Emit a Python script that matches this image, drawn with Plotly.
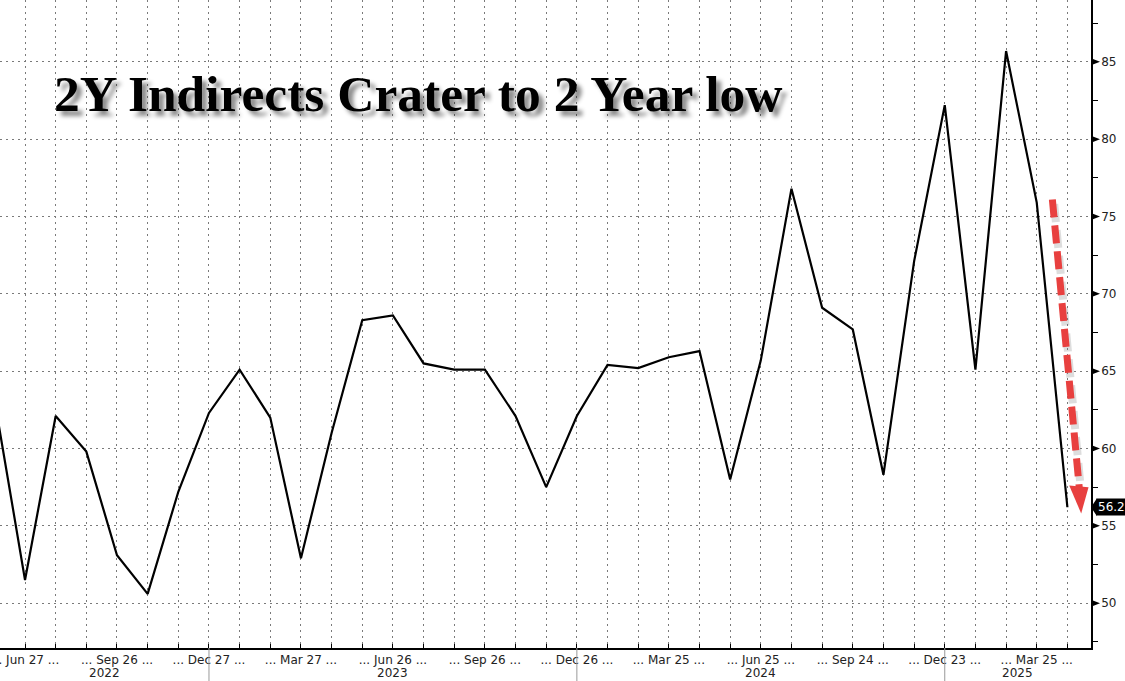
import datetime as dt
import plotly.graph_objects as go

# ---- data ----
auction_dates = ["2022-05-25", "2022-06-27", "2022-07-26", "2022-08-24", "2022-09-26",
                 "2022-10-26", "2022-11-21", "2022-12-27", "2023-01-24", "2023-02-27",
                 "2023-03-27", "2023-04-25", "2023-05-25", "2023-06-26", "2023-07-25",
                 "2023-08-28", "2023-09-26", "2023-10-24", "2023-11-27", "2023-12-26",
                 "2024-01-23", "2024-02-26", "2024-03-25", "2024-04-23", "2024-05-28",
                 "2024-06-25", "2024-07-29", "2024-08-26", "2024-09-24", "2024-10-28",
                 "2024-11-25", "2024-12-23", "2025-01-27", "2025-02-25", "2025-03-25",
                 "2025-04-28"]
indirects = [63.2, 51.5, 62.1, 59.8, 53.1, 50.6, 57.2, 62.3, 65.1, 62.0,
             52.9, 61.0, 68.3, 68.6, 65.5, 65.1, 65.1, 62.1, 57.5, 62.1,
             65.4, 65.2, 65.9, 66.3, 58.0, 65.7, 76.8, 69.1, 67.7, 58.3,
             72.1, 82.2, 65.1, 85.7, 75.9, 56.2]
y_ticks = [50, 55, 60, 65, 70, 75, 80, 85]
title_text = "2Y Indirects Crater to 2 Year low"

# ---- derived ----
dates = [dt.date.fromisoformat(d) for d in auction_dates]
x_idx = list(range(len(dates)))
tick_idx = x_idx[1::3]
tick_text = ["... %s %d ..." % (dates[i].strftime("%b"), dates[i].day) for i in tick_idx]

x_range = [0.184, len(dates) - 1 + 0.77]
y_range = [47.1, 89.0]

fig = go.Figure()
fig.add_trace(go.Scatter(x=x_idx, y=indirects, mode="lines",
                         line=dict(color="black", width=2.2), hoverinfo="skip",
                         showlegend=False))

grid_col = "#7a7a7a"
lab_font = dict(family="DejaVu Sans, Verdana, sans-serif", size=12, color="#222")
fig.update_layout(
    width=1125, height=681,
    margin=dict(l=0, r=34, t=0, b=33, autoexpand=False),
    paper_bgcolor="white", plot_bgcolor="white",
    showlegend=False,
    font=lab_font,
    xaxis=dict(range=x_range, tickmode="array", tickvals=tick_idx, ticktext=tick_text,
               showgrid=True, gridcolor=grid_col, griddash="2px,4px", gridwidth=1,
               ticks="inside", ticklen=4, tickcolor="black",
               showline=True, linecolor="black", linewidth=1.5,
               minor=dict(tickmode="linear", tick0=0, dtick=1, showgrid=True,
                          gridcolor=grid_col, griddash="2px,4px", gridwidth=1,
                          ticks="inside", ticklen=4, tickcolor="black"),
               zeroline=False, fixedrange=True, ticklabeloverflow="allow",
               tickfont=lab_font),
    yaxis=dict(side="right", range=y_range, tickmode="array", tickvals=y_ticks,
               showgrid=True, gridcolor=grid_col, griddash="2px,4px", gridwidth=1,
               ticks="outside", ticklen=1, tickcolor="black",
               showline=True, linecolor="black", linewidth=1.5,
               minor=dict(tickmode="linear", tick0=2.5, dtick=5, ticks="outside",
                          ticklen=5, tickcolor="black", showgrid=False),
               zeroline=False, ticklabelstandoff=5, ticklabeloverflow="allow",
               tickfont=lab_font),
)

shapes = []
# triangle tick markers on right axis
for v in y_ticks:
    shapes.append(dict(type="path", xref="paper", yref="y", xsizemode="pixel",
                       ysizemode="pixel", xanchor=1, yanchor=v,
                       path="M 0,-3.5 L 9,0 L 0,3.5 Z", fillcolor="black",
                       line=dict(width=0)))

# year separators and labels
sep_idx = [i for i in range(len(dates) - 1) if dates[i].year != dates[i + 1].year]
for i in sep_idx:
    shapes.append(dict(type="line", xref="x", yref="paper", x0=i, x1=i,
                       y0=0, y1=-0.06, line=dict(color="#999", width=1)))
bounds = [x_range[0]] + sep_idx + [x_range[1]]
years = sorted(set(d.year for d in dates))
annotations = []
for k, yr in enumerate(years):
    annotations.append(dict(x=(bounds[k] + bounds[k + 1]) / 2, y=-0.039, xref="x",
                            yref="paper", text=str(yr), showarrow=False,
                            xanchor="center", yanchor="middle", font=lab_font))

# red dashed arrow
arrow_start = (34.51, 76.1)
arrow_end = (35.39, 57.4)
tip = (35.45, 55.8)
shapes.append(dict(type="line", xref="x", yref="y", x0=arrow_start[0] + 0.06,
                   y0=arrow_start[1] - 0.3, x1=arrow_end[0] + 0.06, y1=arrow_end[1] - 0.3,
                   line=dict(color="rgba(120,120,120,0.25)", width=8, dash="18px,8px")))
shapes.append(dict(type="line", xref="x", yref="y", x0=arrow_start[0], y0=arrow_start[1],
                   x1=arrow_end[0], y1=arrow_end[1],
                   line=dict(color="#e8403f", width=7, dash="18px,8px")))
shapes.append(dict(type="path", xref="x", yref="y",
                   path="M %f,%f L %f,%f L %f,%f Z" % (arrow_end[0] - 0.33, arrow_end[1] + 0.2,
                                                      arrow_end[0] + 0.30, arrow_end[1] + 0.1,
                                                      tip[0], tip[1]),
                   fillcolor="#e8403f", line=dict(width=0)))

# last value tag
last_v = indirects[-1]
shapes.append(dict(type="path", xref="paper", yref="y", xsizemode="pixel",
                   ysizemode="pixel", xanchor=1, yanchor=last_v,
                   path="M 0,0 L 6,-9 L 6,9 Z", fillcolor="black", line=dict(width=0)))
annotations.append(dict(x=1, y=last_v, xref="paper", yref="y", xshift=5,
                        text="%.1f" % last_v, showarrow=False, xanchor="left",
                        yanchor="middle", bgcolor="black", borderpad=1,
                        font=dict(family=lab_font["family"], size=12, color="white")))

# title
annotations.append(dict(x=0.048, y=0.856, xref="paper", yref="paper", text=title_text,
                        showarrow=False, xanchor="left", yanchor="middle",
                        font=dict(family="Liberation Serif, Times New Roman, serif",
                                  size=51.5, color="black", weight="bold",
                                  shadow="5px 5px 4px rgba(0,0,0,0.45)")))

fig.update_layout(shapes=shapes, annotations=annotations)
fig.write_html("out.html", config={"displayModeBar": False},
               post_script="document.body.style.margin='0';document.body.style.padding='0';"
                           "document.body.style.overflow='hidden';")
